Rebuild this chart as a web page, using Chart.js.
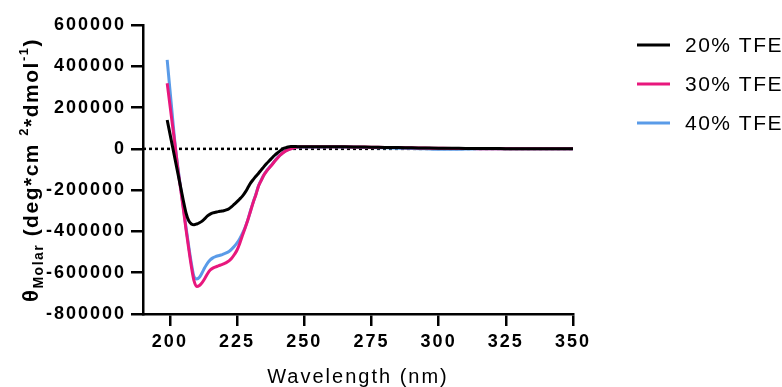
<!DOCTYPE html>
<html><head><meta charset="utf-8">
<script src="https://cdn.jsdelivr.net/npm/chart.js@4.4.1/dist/chart.umd.min.js"></script>
<style>html,body{margin:0;padding:0;background:#fff;}#wrap{width:782px;height:387px;}</style>
</head><body><div id="wrap"><canvas id="c" width="782" height="387"></canvas></div>
<script>
const wavelengths = [199,200,201,202,203,204,205,206,207,208,209,210,211,212,213,214,215,216,217,218,219,220,221,222,223,224,225,226,227,228,229,230,231,232,233,234,235,236,237,238,239,240,241,242,243,244,245,246,247,248,249,250,255,260,265,270,275,280,285,290,295,300,305,310,315,320,325,330,335,340,345,350];
const tfe20 = [140000,75000,10000,-55000,-120000,-185000,-250000,-310000,-348000,-364000,-368000,-364000,-358000,-350000,-338000,-325000,-316000,-310000,-307000,-304000,-302000,-300000,-296000,-290000,-280000,-268000,-256000,-243000,-229000,-211000,-189000,-166000,-149000,-133000,-118000,-102000,-86000,-71000,-58000,-44000,-31000,-20000,-10000,0,5000,9000,11000,11000,11000,10000,10000,10000,
  10000,10000,10000,9000,8000,7000,6000,5000,4000,3000,3000,2000,2000,2000,1000,1000,1000,1000,0,0];
const tfe30 = [318000,215000,112000,10000,-100000,-195000,-290000,-390000,-483000,-570000,-640000,-667000,-662000,-648000,-628000,-605000,-587000,-578000,-572000,-567000,-562000,-557000,-551000,-543000,-530000,-512000,-490000,-458000,-420000,-383000,-345000,-302000,-260000,-222000,-180000,-153000,-127000,-108000,-92000,-77000,-60000,-45000,-31000,-20000,-11000,-5000,0,5000,8000,10000,10000,10000,
  10000,10000,10000,9000,8000,7000,6000,5000,4000,3000,2000,2000,1000,1000,1000,0,0,0,0,0];
const tfe40 = [431000,290000,150000,15000,-92000,-188000,-282000,-380000,-470000,-555000,-620000,-630000,-622000,-600000,-575000,-553000,-538000,-528000,-522000,-518000,-514000,-509000,-504000,-497000,-486000,-472000,-456000,-436000,-410000,-381000,-344000,-300000,-258000,-220000,-178000,-151000,-125000,-106000,-90000,-75000,-58000,-43000,-30000,-19000,-10000,-4000,1000,5000,8000,9000,9000,9000,
  9000,10000,9000,8000,6000,5000,3000,2000,0,-2000,-2000,-1000,0,0,1000,1000,1000,0,0,0];
const seriesLabels = ['20% TFE','30% TFE','40% TFE'];
const xTickValues = [200,225,250,275,300,325,350];
const yTickValues = [-800000,-600000,-400000,-200000,0,200000,400000,600000];
const zeroLineX = [190,350];
const zeroLineY = [0,0];

const FONT = "'Liberation Sans', Arial, Helvetica, sans-serif";
const pts = (xs, ys) => xs.map((x,i)=>({x:x,y:ys[i]}));

const custom = {
  id:'custom',
  beforeLayout(chart){ chart.ctx.letterSpacing='2px'; },
  beforeDraw(chart){ chart.ctx.letterSpacing='2px'; },
  afterDraw(chart){
    const ctx = chart.ctx;
    ctx.save();
    // legend
    ctx.letterSpacing='1.5px';
    chart.data.datasets.forEach((ds,i)=>{
      if(!ds.label) return;
      const y = 45 + i*39;
      ctx.strokeStyle = ds.borderColor; ctx.lineWidth = 3; ctx.setLineDash([]);
      ctx.beginPath(); ctx.moveTo(637,y); ctx.lineTo(670,y); ctx.stroke();
      ctx.fillStyle='#000'; ctx.font = '21px '+FONT; ctx.textBaseline='middle'; ctx.textAlign='left';
      ctx.fillText(ds.label, 685, y+1);
    });
    // y axis title with sub/superscripts
    const parts = [
      {t:'θ', s:22, d:0},
      {t:'Molar', s:14, d:5},
      {t:' (deg*cm ', s:21, d:0},
      {t:'2', s:13, d:-10},
      {t:'*dmol', s:21, d:0},
      {t:'-1', s:13, d:-10},
      {t:')', s:21, d:0}
    ];
    ctx.letterSpacing='1.5px';
    let w = 0;
    parts.forEach(p=>{ ctx.font='bold '+p.s+'px '+FONT; p.w = ctx.measureText(p.t).width; w += p.w; });
    ctx.translate(38, 170);
    ctx.rotate(-Math.PI/2);
    ctx.textBaseline='alphabetic'; ctx.textAlign='left'; ctx.fillStyle='#000';
    let x = -w/2;
    parts.forEach(p=>{ ctx.font='bold '+p.s+'px '+FONT; ctx.fillText(p.t, x, p.d); x += p.w; });
    ctx.restore();
  }
};

new Chart(document.getElementById('c'), {
  type:'line',
  data:{ datasets:[
    {label:seriesLabels[0], data:pts(wavelengths,tfe20), borderColor:'#000000', borderWidth:3, pointRadius:0, cubicInterpolationMode:'monotone'},
    {label:seriesLabels[1], data:pts(wavelengths,tfe30), borderColor:'#E8177D', borderWidth:3, pointRadius:0, cubicInterpolationMode:'monotone'},
    {label:seriesLabels[2], data:pts(wavelengths,tfe40), borderColor:'#5A9BE8', borderWidth:3, pointRadius:0, cubicInterpolationMode:'monotone'},
    {label:'', data:pts(zeroLineX,zeroLineY), borderColor:'#000000', borderWidth:2.5, borderDash:[3,3], pointRadius:0}
  ]},
  options:{
    responsive:false, animation:false, devicePixelRatio:1,
    layout:{padding:{top:25,right:209,bottom:0,left:0}},
    plugins:{legend:{display:false}, tooltip:{enabled:false}},
    scales:{
      x:{type:'linear', min:190, max:350,
        afterBuildTicks(s){ s.ticks = xTickValues.map(v=>({value:v})); },
        afterFit(s){ s.height = 73; },
        grid:{drawOnChartArea:false, drawTicks:true, tickLength:12, color:'#000', lineWidth:2.5},
        border:{display:true, color:'#000', width:2.5},
        ticks:{color:'#000', font:{family:FONT, size:18, weight:'bold'}, padding:5, maxRotation:0, autoSkip:false},
        title:{display:true, text:'Wavelength (nm)', color:'#000', font:{family:FONT, size:20, weight:'normal'}, padding:{top:0,bottom:-2}}
      },
      y:{type:'linear', min:-800000, max:600000,
        afterBuildTicks(s){ s.ticks = yTickValues.map(v=>({value:v})); },
        afterFit(s){ s.width = 143; },
        grid:{drawOnChartArea:false, drawTicks:true, tickLength:12, color:'#000', lineWidth:2.5},
        border:{display:true, color:'#000', width:2.5},
        ticks:{color:'#000', font:{family:FONT, size:18, weight:'bold'}, padding:5, autoSkip:false, callback:v=>String(v)}
      }
    }
  },
  plugins:[custom]
});
</script></body></html>
